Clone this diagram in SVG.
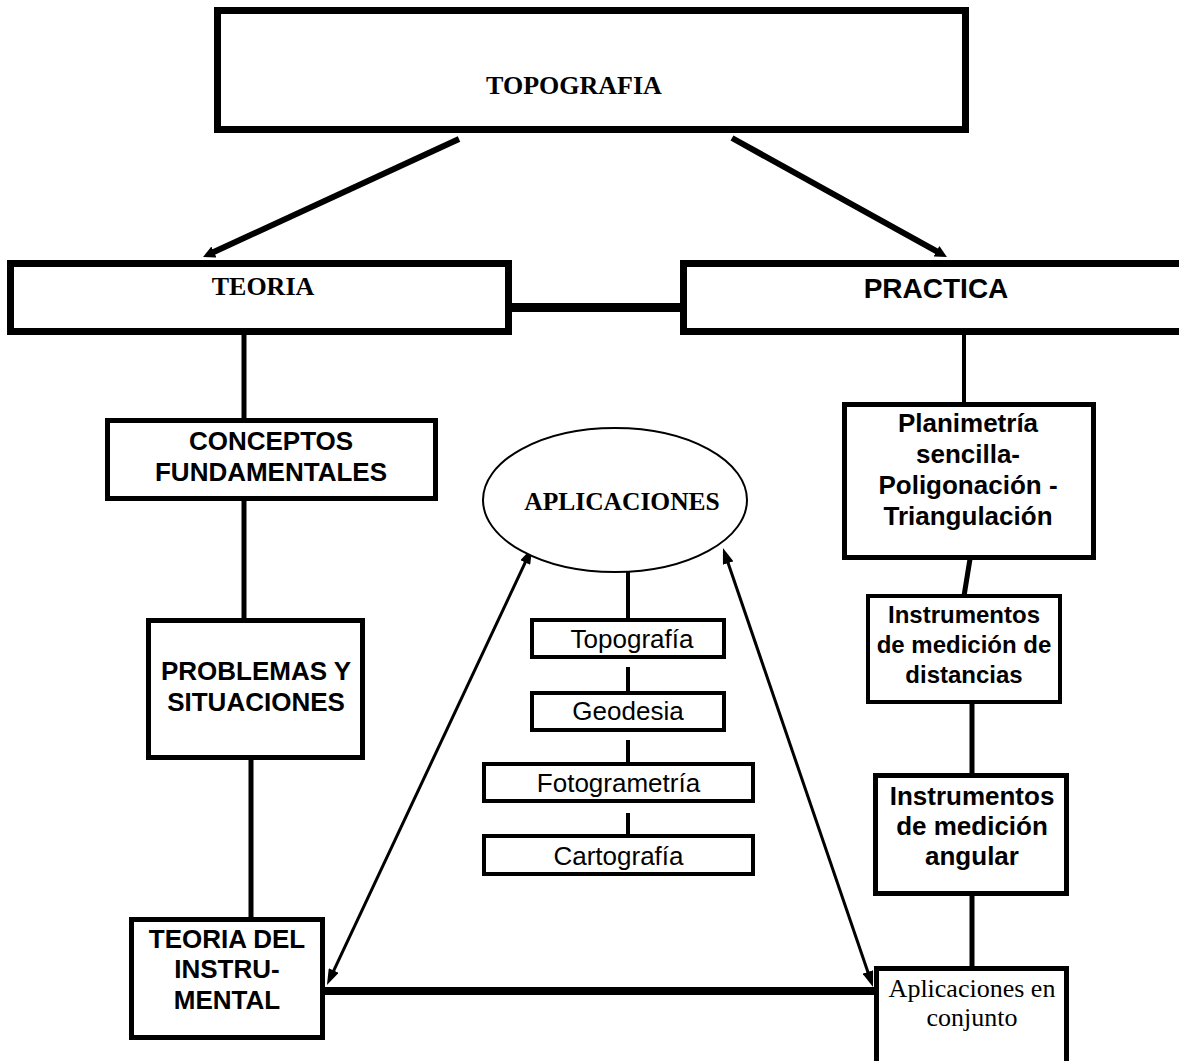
<svg xmlns="http://www.w3.org/2000/svg" width="1179" height="1061" viewBox="0 0 1179 1061">
<style>
.bx{fill:#fff;stroke:#000}
.c{stroke:#000;fill:none}
.ab{font-family:"Liberation Sans",Arial,sans-serif;font-weight:bold;font-size:26px;text-anchor:middle;fill:#000}
.ar{font-family:"Liberation Sans",Arial,sans-serif;font-size:26px;text-anchor:middle;fill:#000}
.tb{font-family:"Liberation Serif","Times New Roman",serif;font-weight:bold;font-size:26px;text-anchor:middle;fill:#000}
.tr{font-family:"Liberation Serif","Times New Roman",serif;font-size:26px;text-anchor:middle;fill:#000}
</style>
<defs>
<marker id="ah" markerUnits="userSpaceOnUse" markerWidth="12" markerHeight="12" refX="2" refY="6" orient="auto"><path d="M0,0 L12,6 L0,12 z" fill="#000"/></marker>
<marker id="ad" markerUnits="userSpaceOnUse" markerWidth="16" markerHeight="11" refX="2" refY="5.5" orient="auto-start-reverse"><path d="M0,0 L16,5.5 L0,11 z" fill="#000"/></marker>
</defs>
<rect width="1179" height="1061" fill="#fff"/>
<g id="connectors">
<line class="c" x1="459" y1="139" x2="212.1" y2="252.8" stroke-width="6" marker-end="url(#ah)"/>
<line class="c" x1="732" y1="138" x2="938.2" y2="252.2" stroke-width="6" marker-end="url(#ah)"/>
<line class="c" x1="512" y1="307.5" x2="680" y2="307.5" stroke-width="9"/>
<line class="c" x1="244" y1="335" x2="244" y2="419" stroke-width="5"/>
<line class="c" x1="244" y1="501" x2="244" y2="619" stroke-width="5"/>
<line class="c" x1="251" y1="751" x2="251" y2="918" stroke-width="5"/>
<line class="c" x1="628" y1="572" x2="628" y2="619" stroke-width="4"/>
<line class="c" x1="628" y1="667" x2="628" y2="692" stroke-width="4"/>
<line class="c" x1="628" y1="740" x2="628" y2="763" stroke-width="4"/>
<line class="c" x1="628" y1="813" x2="628" y2="835" stroke-width="4"/>
<line class="c" x1="964" y1="335" x2="964" y2="403" stroke-width="4"/>
<line class="c" x1="970" y1="559" x2="964" y2="596" stroke-width="5"/>
<line class="c" x1="972" y1="704" x2="972" y2="774" stroke-width="5"/>
<line class="c" x1="972" y1="896" x2="972" y2="967" stroke-width="5"/>
<line class="c" x1="325" y1="991" x2="875" y2="991" stroke-width="8"/>
<line class="c" x1="526.1" y1="560.7" x2="332.9" y2="972.3" stroke-width="3" marker-start="url(#ad)" marker-end="url(#ad)"/>
<line class="c" x1="727.5" y1="561.2" x2="868.5" y2="973.8" stroke-width="3" marker-start="url(#ad)" marker-end="url(#ad)"/>
</g>
<g id="topografia">
<rect class="bx" x="217.5" y="10.5" width="748" height="119" stroke-width="7"/>
<text class="tb" x="574" y="94">TOPOGRAFIA</text>
</g>
<g id="teoria">
<rect class="bx" x="10.5" y="263.5" width="498" height="68" stroke-width="7"/>
<text class="tb" x="263" y="295">TEORIA</text>
</g>
<g id="practica">
<rect class="bx" x="683.5" y="263.5" width="510" height="68" stroke-width="7"/>
<text class="ab" x="936" y="298" style="font-size:28px">PRACTICA</text>
</g>
<g id="conceptos">
<rect class="bx" x="107.5" y="420.5" width="328" height="78" stroke-width="5"/>
<text class="ab" x="271" y="450">CONCEPTOS</text>
<text class="ab" x="271" y="481">FUNDAMENTALES</text>
</g>
<g id="problemas">
<rect class="bx" x="148.5" y="620.5" width="214" height="137" stroke-width="5"/>
<text class="ab" x="256" y="680">PROBLEMAS Y</text>
<text class="ab" x="256" y="711">SITUACIONES</text>
</g>
<g id="teoria-instrumental">
<rect class="bx" x="131.5" y="919.5" width="191" height="118" stroke-width="5"/>
<text class="ab" x="227" y="948">TEORIA DEL</text>
<text class="ab" x="227" y="978">INSTRU-</text>
<text class="ab" x="227" y="1009">MENTAL</text>
</g>
<g id="aplicaciones">
<ellipse cx="615" cy="500" rx="132" ry="72" fill="#fff" stroke="#000" stroke-width="2"/>
<text class="tb" x="622" y="510" style="font-size:25.5px">APLICACIONES</text>
</g>
<g id="topografia-app">
<rect class="bx" x="532" y="620" width="192" height="37" stroke-width="4"/>
<text class="ar" x="632" y="648">Topografía</text>
</g>
<g id="geodesia">
<rect class="bx" x="532" y="693" width="192" height="37" stroke-width="4"/>
<text class="ar" x="628" y="720">Geodesia</text>
</g>
<g id="fotogrametria">
<rect class="bx" x="484" y="764" width="269" height="37" stroke-width="4"/>
<text class="ar" x="618.5" y="792">Fotogrametría</text>
</g>
<g id="cartografia">
<rect class="bx" x="484" y="836" width="269" height="38" stroke-width="4"/>
<text class="ar" x="618.5" y="865">Cartografía</text>
</g>
<g id="planimetria">
<rect class="bx" x="844.5" y="404.5" width="249" height="153" stroke-width="5"/>
<text class="ab" x="968" y="432">Planimetría</text>
<text class="ab" x="968" y="463">sencilla-</text>
<text class="ab" x="968" y="494">Poligonación -</text>
<text class="ab" x="968" y="525">Triangulación</text>
</g>
<g id="instr-distancias">
<rect class="bx" x="868" y="596" width="192" height="106" stroke-width="4"/>
<text class="ab" x="964" y="623" style="font-size:24px">Instrumentos</text>
<text class="ab" x="964" y="653" style="font-size:24px">de medición de</text>
<text class="ab" x="964" y="683" style="font-size:24px">distancias</text>
</g>
<g id="instr-angular">
<rect class="bx" x="875.5" y="775.5" width="191" height="118" stroke-width="5"/>
<text class="ab" x="972" y="805">Instrumentos</text>
<text class="ab" x="972" y="835">de medición</text>
<text class="ab" x="972" y="865">angular</text>
</g>
<g id="aplicaciones-conjunto">
<rect class="bx" x="876.5" y="968.5" width="190" height="110" stroke-width="5"/>
<text class="tr" x="972" y="997">Aplicaciones en</text>
<text class="tr" x="972" y="1026">conjunto</text>
</g>
</svg>
